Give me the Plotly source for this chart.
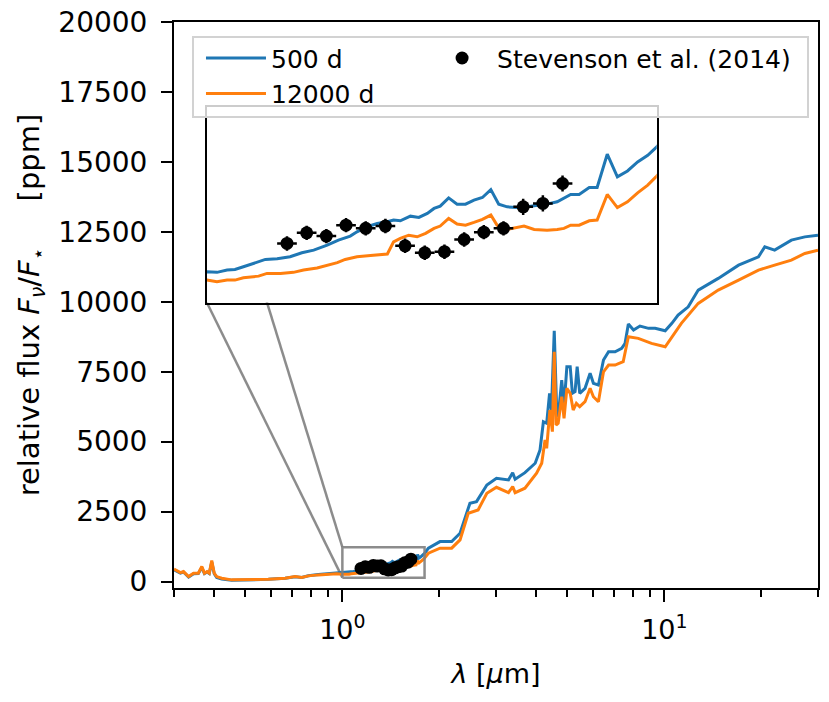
import math
import plotly.graph_objects as go

# model spectrum, 500 d
wl_500 = [0.300, 0.314, 0.321, 0.333, 0.345, 0.357, 0.366, 0.373, 0.380, 0.386,
          0.393, 0.400, 0.407, 0.422, 0.453, 0.523, 0.589, 0.664, 0.713, 0.748,
          0.784, 0.842, 0.905, 0.960,
          1.000, 1.018, 1.036, 1.050, 1.065, 1.083, 1.104, 1.125, 1.148, 1.169,
          1.190, 1.214, 1.234, 1.255, 1.267, 1.285, 1.303, 1.321, 1.332, 1.344,
          1.362, 1.377, 1.392, 1.404, 1.415, 1.430, 1.445, 1.460, 1.475, 1.490,
          1.505, 1.519, 1.534, 1.552, 1.570, 1.588, 1.605, 1.623, 1.647, 1.662,
          1.680, 1.694, 1.712, 1.730, 1.748, 1.766, 1.784, 1.800,
          1.85, 2.01, 2.185, 2.32, 2.49, 2.61, 2.81, 3.01, 3.28, 3.38, 3.44,
          3.69, 3.97, 4.11, 4.21, 4.31, 4.40, 4.46, 4.55, 4.63, 4.68, 4.80,
          4.88, 4.98, 5.10, 5.18, 5.28, 5.36, 5.46, 5.67, 5.88, 6.02, 6.24,
          6.47, 6.71, 7.03, 7.37, 7.55, 7.73, 8.02, 8.40, 8.93, 9.36, 10.06,
          10.55, 11.03, 11.86, 12.74, 14.7, 17.0, 19.6, 20.5, 22.0, 24.8,
          27.3, 30.0]
flux_500 = [420, 300, 340, 160, 280, 285, 500, 285, 340, 285,
            700, 280, 150, 90, 45, 50, 80, 115, 175, 145,
            210, 250, 280, 300,
            310, 307, 320, 323, 338, 357, 379, 383, 394, 416,
            431, 459, 487, 509, 533, 561, 579, 589, 598, 594,
            620, 613, 635, 663, 676, 722, 687, 687, 709, 724,
            768, 687, 672, 668, 672, 681, 687, 700, 741, 741,
            780, 780, 965, 839, 872, 922, 959, 1006,
            1193, 1429, 1429, 1729, 2800, 2857, 3454, 3693, 3632, 3893, 3657,
            3893, 4229, 4704, 5714, 5657, 6729, 6132, 8964, 6132, 5893, 7204,
            6250, 7679, 7679, 6729, 6786, 7679, 6729, 6907, 7443, 7086, 7025,
            7918, 8214, 8214, 8336, 8514, 9204, 8989, 9132, 9050, 9050, 8964,
            9229, 9525, 9821, 10418, 10836, 11311, 11607, 11964, 11846, 12204,
            12321, 12382]

# model spectrum, 12000 d
wl_12000 = [0.300, 0.314, 0.321, 0.333, 0.345, 0.357, 0.366, 0.373, 0.380, 0.386,
            0.393, 0.400, 0.407, 0.422, 0.453, 0.523, 0.589, 0.664, 0.713, 0.748,
            0.784, 0.842, 0.905, 0.960,
            1.000, 1.018, 1.036, 1.050, 1.065, 1.092, 1.107, 1.131, 1.154, 1.172,
            1.196, 1.214, 1.232, 1.246, 1.267, 1.291, 1.321, 1.332, 1.344, 1.359,
            1.374, 1.389, 1.404, 1.415, 1.430, 1.445, 1.460, 1.475, 1.490, 1.505,
            1.516, 1.528, 1.546, 1.564, 1.582, 1.605, 1.623, 1.635, 1.647, 1.662,
            1.680, 1.694, 1.712, 1.730, 1.748, 1.766, 1.784, 1.800,
            1.85, 2.01, 2.185, 2.32, 2.46, 2.64, 2.81, 3.01, 3.28, 3.38, 3.44,
            3.69, 4.01, 4.16, 4.26, 4.31, 4.41, 4.49, 4.55, 4.61, 4.68, 4.80,
            4.88, 4.98, 5.10, 5.21, 5.33, 5.46, 5.67, 5.88, 6.02, 6.24, 6.47,
            6.71, 7.03, 7.45, 7.73, 8.30, 9.12, 10.06, 11.29, 12.74, 14.7,
            17.0, 19.6, 22.0, 24.8, 27.3, 30.0]
flux_12000 = [443, 321, 357, 179, 300, 300, 536, 300, 357, 300,
              750, 300, 179, 121, 61, 61, 86, 121, 179, 143,
              204, 239, 264, 275,
              264, 255, 264, 264, 277, 286, 301, 301, 307, 320,
              331, 346, 361, 379, 394, 401, 409, 477, 496, 514,
              505, 524, 552, 565, 607, 576, 570, 585, 602, 626,
              570, 542, 552, 565, 546, 542, 546, 552, 570, 570,
              594, 598, 741, 668, 700, 750, 793, 843,
              1014, 1193, 1193, 1489, 2443, 2561, 3157, 3371, 3179, 3393, 3179,
              3336, 3871, 4229, 5061, 4764, 6132, 5357, 8214, 5596, 5657, 6607,
              5836, 6907, 6729, 6132, 6371, 6250, 6429, 6907, 6607, 6429, 7500,
              7739, 7739, 7857, 8750, 8693, 8514, 8393, 9229, 9943, 10418,
              10775, 11132, 11311, 11489, 11729, 11846]

# Stevenson et al. (2014), HST/WFC3
obs_wl = [1.1425, 1.1775, 1.2125, 1.2475, 1.2825, 1.3175, 1.3525, 1.3875,
          1.4225, 1.4575, 1.4925, 1.5275, 1.5625, 1.5975, 1.6325]
obs_flux = [468, 527, 509, 570, 552, 565, 455, 416, 422, 490, 531, 552, 672, 691, 802]
obs_wl_err = [0.0175, 0.0175, 0.0175, 0.0175, 0.0175, 0.0175, 0.0175, 0.0175,
              0.0175, 0.0175, 0.0175, 0.0175, 0.0175, 0.0175, 0.0175]
obs_flux_err = [40, 40, 40, 40, 40, 40, 40, 40, 40, 40, 40, 40, 45, 45, 45]

# axis limits
xlim = (0.3, 30)
ylim = (-230, 20001)
inset_xlim = (1.0, 1.8)
inset_ylim = (139, 1228)
inset_dom_x = (0.051, 0.7496)
inset_dom_y = (0.5044, 0.8498)
legend_box = (0.0295, 0.8322, 0.9845, 0.9735)  # x0, y0, x1, y1 in paper units

BLUE = '#1f77b4'
ORANGE = '#ff7f0e'
GRAY = 'rgba(128,128,128,0.9)'
FONT = 'DejaVu Sans'

fig = go.Figure()

for ax, show in (('', True), ('2', False)):
    fig.add_trace(go.Scatter(x=wl_500, y=flux_500, mode='lines', name='500 d',
                             line=dict(color=BLUE, width=3), showlegend=show,
                             xaxis='x' + ax, yaxis='y' + ax))
    fig.add_trace(go.Scatter(x=wl_12000, y=flux_12000, mode='lines', name='12000 d',
                             line=dict(color=ORANGE, width=3), showlegend=show,
                             xaxis='x' + ax, yaxis='y' + ax))

# zoom box on the main axes
fig.add_trace(go.Scatter(
    x=[inset_xlim[0], inset_xlim[1], inset_xlim[1], inset_xlim[0], inset_xlim[0]],
    y=[inset_ylim[0], inset_ylim[0], inset_ylim[1], inset_ylim[1], inset_ylim[0]],
    mode='lines', line=dict(color=GRAY, width=2.5), showlegend=False,
    hoverinfo='skip'))

for ax, show in (('', True), ('2', False)):
    fig.add_trace(go.Scatter(
        x=obs_wl, y=obs_flux, mode='markers', name='Stevenson et al. (2014)',
        marker=dict(color='black', size=13),
        error_x=dict(type='data', array=obs_wl_err, color='black', thickness=2.5, width=0),
        error_y=dict(type='data', array=obs_flux_err, color='black', thickness=2.5, width=0),
        showlegend=show, legend='legend2', xaxis='x' + ax, yaxis='y' + ax))

# connector lines between inset and zoom box (paper coords)
lx0, lx1 = math.log10(xlim[0]), math.log10(xlim[1])
box_px = (math.log10(inset_xlim[0]) - lx0) / (lx1 - lx0)
box_py0 = (inset_ylim[0] - ylim[0]) / (ylim[1] - ylim[0])
box_py1 = (inset_ylim[1] - ylim[0]) / (ylim[1] - ylim[0])
for y_in, y_box in ((inset_dom_y[0], box_py0), (inset_dom_y[1], box_py1)):
    fig.add_shape(type='line', xref='paper', yref='paper',
                  x0=inset_dom_x[0], y0=y_in, x1=box_px, y1=y_box,
                  line=dict(color=GRAY, width=2.5), layer='below')

# legend frame (semi-transparent, drawn over the inset like matplotlib)
fig.add_shape(type='rect', xref='paper', yref='paper',
              x0=legend_box[0], y0=legend_box[1], x1=legend_box[2], y1=legend_box[3],
              fillcolor='rgba(255,255,255,0.8)', line=dict(color='rgb(210,210,210)', width=2),
              layer='above')

minor_x = [0.3, 0.4, 0.5, 0.6, 0.7, 0.8, 0.9, 2, 3, 4, 5, 6, 7, 8, 9, 20, 30]
legend_font = dict(family=FONT, size=25, color='black')

# page body adds an 8 px margin, so the figure is 8 px smaller and shifted
fig.update_layout(
    width=821, height=694,
    margin=dict(l=166, r=11, t=14, b=114),
    paper_bgcolor='white', plot_bgcolor='white',
    font=dict(family=FONT, size=28, color='black'),
    xaxis=dict(type='log', range=[lx0, lx1], domain=[0, 1],
               tickvals=[1, 10], ticktext=['10<sup>0</sup>', '10<sup>1</sup>'],
               tickfont=dict(family=FONT, size=27), ticklabelstandoff=5,
               ticks='outside', ticklen=12, tickwidth=2, tickcolor='black',
               minor=dict(tickvals=minor_x, ticks='outside', ticklen=7,
                          tickwidth=1.5, tickcolor='black'),
               showline=True, linecolor='black', linewidth=2, mirror=True,
               showgrid=False, zeroline=False, automargin=False,
               title=dict(text='<i>λ</i> [<i>μ</i>m]', standoff=20,
                          font=dict(family=FONT, size=27))),
    yaxis=dict(range=list(ylim), domain=[0, 1],
               tickvals=[0, 2500, 5000, 7500, 10000, 12500, 15000, 17500, 20000],
               tickformat='d', ticklabelstandoff=8, ticklabeloverflow='allow',
               ticks='outside', ticklen=11, tickwidth=2, tickcolor='black',
               showline=True, linecolor='black', linewidth=2, mirror=True,
               showgrid=False, zeroline=False, automargin=False,
               title=dict(text='relative flux <i>F</i><sub><i>ν</i></sub>/<i>F</i><sub>⋆</sub>&nbsp;&nbsp;&nbsp;&nbsp;&nbsp;[ppm]',
                          standoff=10, font=dict(family=FONT, size=29))),
    xaxis2=dict(range=list(inset_xlim), domain=list(inset_dom_x), anchor='y2',
                showticklabels=False, ticks='', showgrid=False, zeroline=False,
                showline=True, linecolor='black', linewidth=2, mirror=True),
    yaxis2=dict(range=list(inset_ylim), domain=list(inset_dom_y), anchor='x2',
                showticklabels=False, ticks='', showgrid=False, zeroline=False,
                showline=True, linecolor='black', linewidth=2, mirror=True),
    legend=dict(x=0.0419, y=0.9766, xanchor='left', yanchor='top',
                bgcolor='rgba(0,0,0,0)', borderwidth=0, font=legend_font,
                itemwidth=60, tracegroupgap=0),
    legend2=dict(x=0.393, y=0.9766, xanchor='left', yanchor='top',
                 bgcolor='rgba(0,0,0,0)', borderwidth=0, font=legend_font,
                 itemwidth=60),
    showlegend=True,
)

fig.write_html('out.html')
